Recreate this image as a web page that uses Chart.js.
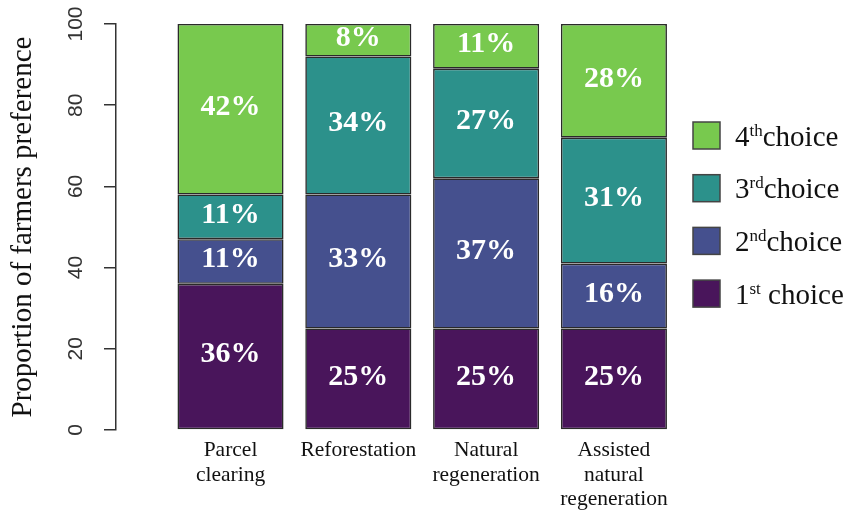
<!DOCTYPE html>
<html>
<head>
<meta charset="utf-8">
<script src="https://cdn.jsdelivr.net/npm/chart.js@4.4.1/dist/chart.umd.min.js"></script>
<style>
  html, body { margin: 0; padding: 0; background: #ffffff; }
  #wrap { width: 846px; height: 512px; position: relative; }
</style>
</head>
<body>
<div id="wrap"><canvas id="chart" width="846" height="512"></canvas></div>
<script>
// Land-use options (x axis), one line per array entry
const categories = [
  ['Parcel', 'clearing'],
  ['Reforestation'],
  ['Natural', 'regeneration'],
  ['Assisted', 'natural', 'regeneration']
];

// Share of farmers (%) ranking each option as their 1st..4th choice
const choice1 = [36, 25, 25, 25];
const choice2 = [11, 33, 37, 16];
const choice3 = [11, 34, 27, 31];
const choice4 = [42, 8, 11, 28];

const yTicks = [0, 20, 40, 60, 80, 100];

// Legend labels: number, superscript ordinal, trailing text
const seriesLabels = [
  ['1', 'st', ' choice'],
  ['2', 'nd', 'choice'],
  ['3', 'rd', 'choice'],
  ['4', 'th', 'choice']
];
const seriesColors = ['#49155b', '#45508e', '#2c918b', '#78c94e'];

const SERIF = '"Liberation Serif", "Times New Roman", serif';
const SANS = '"Liberation Sans", Arial, sans-serif';

const seriesValues = [choice1, choice2, choice3, choice4];
const datasets = seriesValues.map((vals, s) => ({
  label: seriesLabels[s].join(''),
  data: vals.map((v, i) => ({ x: i, y: v })),
  backgroundColor: seriesColors[s],
  borderColor: '#2a2a2a',
  borderWidth: 1.6,
  borderSkipped: false,
  categoryPercentage: 1,
  barPercentage: 0.83
}));

// White percentage labels centred in each segment
const segmentLabels = {
  id: 'segmentLabels',
  afterDatasetsDraw(chart) {
    const ctx = chart.ctx;
    ctx.save();
    ctx.fillStyle = '#ffffff';
    ctx.font = 'bold 30px ' + SERIF;
    ctx.textAlign = 'center';
    ctx.textBaseline = 'middle';
    chart.data.datasets.forEach((ds, di) => {
      const meta = chart.getDatasetMeta(di);
      meta.data.forEach((el, i) => {
        const p = el.getProps(['x', 'y', 'base'], true);
        ctx.fillText(ds.data[i].y + '%', p.x, (p.y + p.base) / 2 - 2);
      });
    });
    ctx.restore();
  }
};

// Legend at the right, highest choice on top, with superscript ordinals
const ordinalLegend = {
  id: 'ordinalLegend',
  afterDraw(chart) {
    const ctx = chart.ctx;
    const boxX = 693, box = 27, textX = 735, top = 135.5, step = 52.7;
    ctx.save();
    for (let k = 0; k < seriesLabels.length; k++) {
      const s = seriesLabels.length - 1 - k;
      const cy = top + k * step;
      ctx.fillStyle = seriesColors[s];
      ctx.fillRect(boxX, cy - box / 2, box, box);
      ctx.strokeStyle = '#444444';
      ctx.lineWidth = 1.5;
      ctx.strokeRect(boxX, cy - box / 2, box, box);

      const [num, sup, rest] = seriesLabels[s];
      const base = cy + 10;
      ctx.fillStyle = '#111111';
      ctx.textAlign = 'left';
      ctx.textBaseline = 'alphabetic';
      ctx.font = '29px ' + SERIF;
      ctx.fillText(num, textX, base);
      let x = textX + ctx.measureText(num).width;
      ctx.font = '17px ' + SERIF;
      ctx.fillText(sup, x, base - 10);
      x += ctx.measureText(sup).width;
      ctx.font = '29px ' + SERIF;
      ctx.fillText(rest, x, base);
    }
    ctx.restore();
  }
};

new Chart(document.getElementById('chart'), {
  type: 'bar',
  data: { datasets },
  options: {
    responsive: false,
    animation: false,
    devicePixelRatio: 1,
    layout: { padding: { top: 24, right: 166, bottom: 0, left: 0 } },
    plugins: { legend: { display: false }, tooltip: { enabled: false } },
    scales: {
      x: {
        type: 'linear',
        stacked: true,
        offset: false,
        bounds: 'data',
        min: -0.896,
        max: 3.517,
        grid: { display: false, drawTicks: false, offset: false },
        border: { display: false },
        afterBuildTicks: (scale) => { scale.ticks = categories.map((c, i) => ({ value: i })); },
        ticks: {
          autoSkip: false,
          maxRotation: 0,
          minRotation: 0,
          padding: 8,
          color: '#111111',
          font: { family: SERIF, size: 21.5, lineHeight: 1.15 },
          callback: (v) => categories[v] || ''
        },
        afterFit: (scale) => { scale.height = 82; }
      },
      y: {
        stacked: true,
        min: 0,
        max: 100,
        afterBuildTicks: (scale) => { scale.ticks = yTicks.map(v => ({ value: v })); },
        grid: {
          display: true,
          drawOnChartArea: false,
          drawTicks: true,
          tickLength: 12,
          color: '#333333',
          lineWidth: 1.5
        },
        border: { display: true, color: '#333333', width: 1.5 },
        ticks: {
          minRotation: 90,
          maxRotation: 90,
          crossAlign: 'center',
          padding: 10,
          color: '#333333',
          font: { family: SANS, size: 21 }
        },
        title: {
          display: true,
          text: 'Proportion of farmers preference',
          color: '#111111',
          font: { family: SERIF, size: 29 },
          padding: { top: 6, bottom: 0 }
        },
        afterFit: (scale) => { scale.width = 116; }
      }
    }
  },
  plugins: [segmentLabels, ordinalLegend]
});
</script>
</body>
</html>
